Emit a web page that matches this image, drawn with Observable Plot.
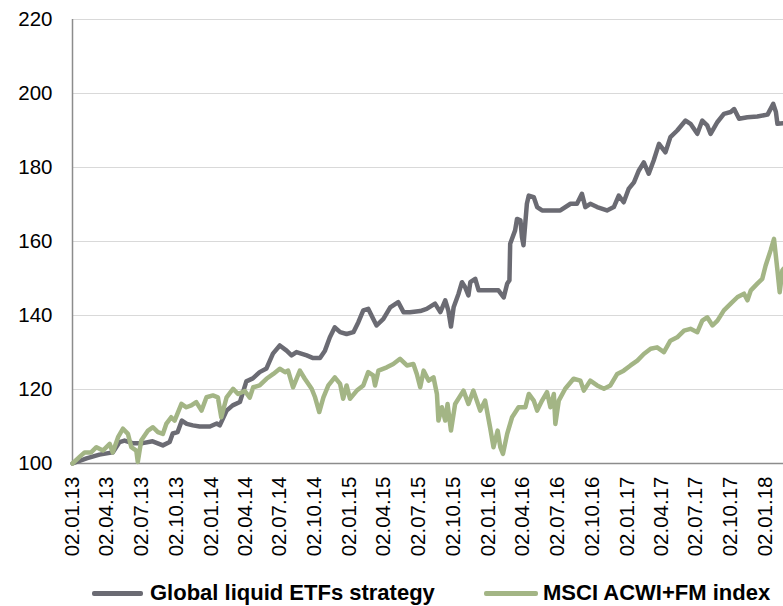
<!DOCTYPE html>
<html>
<head>
<meta charset="utf-8">
<script src="https://cdn.jsdelivr.net/npm/d3@7"></script>
<script src="https://cdn.jsdelivr.net/npm/@observablehq/plot@0.6"></script>
<style>
  html, body { margin: 0; padding: 0; background: #fff; }
  #wrap { position: relative; width: 783px; height: 606px; font-family: "Liberation Sans", Arial, sans-serif; }
  .leg { position: absolute; top: 580px; height: 26px; display: flex; align-items: center; font-weight: bold; font-size: 22px; color: #000; white-space: nowrap; }
  .sw { display: inline-block; height: 5px; border-radius: 2px; }
</style>
</head>
<body>
<div id="wrap">
  <div id="chart"></div>
  <div class="leg" style="left:92px"><span class="sw" style="width:51px;background:#6b6b73"></span><span style="margin-left:7px">Global liquid ETFs strategy</span></div>
  <div class="leg" style="left:484px"><span class="sw" style="width:54px;background:#a3b585"></span><span style="margin-left:5px">MSCI ACWI+FM index</span></div>
</div>
<script>
const seriesNames = ["Global liquid ETFs strategy", "MSCI ACWI+FM index"];

const stratDates = ["2013-01-02","2013-02-08","2013-03-14","2013-04-18","2013-05-06","2013-05-19","2013-06-09","2013-07-06","2013-08-01","2013-08-28","2013-09-15","2013-09-23","2013-10-06","2013-10-17","2013-10-30","2013-11-15","2013-12-03","2013-12-30","2014-01-17","2014-01-25","2014-02-12","2014-02-28","2014-03-19","2014-04-05","2014-04-22","2014-05-10","2014-05-28","2014-06-14","2014-07-02","2014-07-20","2014-08-02","2014-08-15","2014-09-11","2014-09-28","2014-10-16","2014-10-29","2014-11-11","2014-11-24","2014-12-08","2014-12-25","2015-01-12","2015-01-25","2015-02-07","2015-02-20","2015-03-05","2015-03-14","2015-04-01","2015-04-19","2015-05-10","2015-05-24","2015-06-10","2015-07-07","2015-07-24","2015-08-15","2015-08-29","2015-09-11","2015-09-19","2015-09-26","2015-10-03","2015-10-16","2015-10-25","2015-11-02","2015-11-11","2015-11-16","2015-11-29","2015-12-08","2015-12-30","2016-01-29","2016-02-12","2016-02-21","2016-02-27","2016-02-29","2016-03-13","2016-03-18","2016-03-27","2016-03-31","2016-04-04","2016-04-13","2016-04-18","2016-05-01","2016-05-10","2016-05-23","2016-07-10","2016-08-06","2016-08-23","2016-09-05","2016-09-14","2016-09-27","2016-10-15","2016-11-10","2016-11-28","2016-12-11","2016-12-24","2017-01-06","2017-01-20","2017-02-02","2017-02-15","2017-02-28","2017-03-13","2017-03-27","2017-04-13","2017-04-26","2017-05-14","2017-06-05","2017-06-18","2017-07-06","2017-07-19","2017-08-01","2017-08-10","2017-08-28","2017-09-14","2017-10-02","2017-10-11","2017-10-24","2017-11-15","2017-12-11","2018-01-07","2018-01-22","2018-01-29","2018-02-02","2018-02-18"];
const stratValues = [100,101.4,102.4,103,105.8,106.2,105.5,105.5,106,104.9,105.8,108.1,108.5,111.6,110.7,110.3,110,110,110.8,110.3,114.3,115.7,116.6,122.2,123,124.7,125.7,129.7,131.9,130.5,129.2,130.1,129.2,128.5,128.5,130.5,134.1,136.8,135.5,135,135.5,138.2,141.4,141.8,139.1,137.3,139.1,142.2,143.6,140.9,140.9,141.2,141.8,143.2,140.9,144.1,141.4,137,142.2,145.9,149,147.7,145.4,149,149.9,146.8,146.8,146.8,144.9,148.6,149.5,159.4,163,166.1,165.7,161.2,159,170.2,172.4,172,169.3,168.4,168.4,170.2,170.2,172.9,169.3,170.2,169.3,168.4,169.3,172.4,170.6,174.2,176,179.2,181.4,178.3,181.9,186.4,184.1,188.2,190,192.7,191.8,189.1,192.7,191.4,189.1,192.3,194.5,195,195.8,193.2,193.6,193.8,194.3,197.2,195,191.8,192];

const msciDates = ["2013-01-02","2013-01-20","2013-02-03","2013-02-20","2013-03-06","2013-03-23","2013-04-10","2013-04-18","2013-05-02","2013-05-15","2013-05-28","2013-06-06","2013-06-19","2013-06-23","2013-07-02","2013-07-20","2013-08-02","2013-08-15","2013-08-28","2013-09-06","2013-09-19","2013-09-28","2013-10-16","2013-10-29","2013-11-11","2013-11-24","2013-12-08","2013-12-21","2014-01-07","2014-01-20","2014-01-29","2014-02-12","2014-03-01","2014-03-14","2014-04-01","2014-04-14","2014-04-23","2014-05-10","2014-05-28","2014-06-15","2014-07-02","2014-07-16","2014-07-24","2014-08-06","2014-08-24","2014-09-06","2014-09-24","2014-10-03","2014-10-14","2014-10-25","2014-11-07","2014-11-24","2014-12-08","2014-12-16","2014-12-25","2015-01-03","2015-01-21","2015-02-07","2015-02-20","2015-03-05","2015-03-10","2015-03-19","2015-04-10","2015-04-27","2015-05-15","2015-06-02","2015-06-19","2015-06-28","2015-07-07","2015-07-16","2015-07-29","2015-08-11","2015-08-20","2015-08-24","2015-09-02","2015-09-11","2015-09-17","2015-09-26","2015-10-07","2015-10-29","2015-11-11","2015-11-24","2015-12-12","2015-12-25","2016-01-07","2016-01-16","2016-01-27","2016-02-03","2016-02-10","2016-02-21","2016-03-05","2016-03-22","2016-04-09","2016-04-18","2016-05-01","2016-05-10","2016-05-23","2016-06-05","2016-06-14","2016-06-23","2016-06-27","2016-07-06","2016-07-23","2016-08-14","2016-09-01","2016-09-10","2016-09-27","2016-10-15","2016-11-02","2016-11-19","2016-12-07","2016-12-24","2017-01-11","2017-01-29","2017-02-15","2017-03-05","2017-03-22","2017-04-09","2017-04-26","2017-05-14","2017-06-01","2017-06-18","2017-07-06","2017-07-19","2017-08-01","2017-08-15","2017-08-28","2017-09-14","2017-10-02","2017-10-20","2017-11-06","2017-11-15","2017-11-24","2017-12-11","2017-12-24","2018-01-02","2018-01-15","2018-01-24","2018-02-02","2018-02-08","2018-02-15","2018-02-18"];
const msciValues = [100,101.7,103,103,104.4,103.5,105.3,103,107.1,109.4,108,104.4,103.5,100.4,106.2,108.9,109.8,108.5,108,110.7,112.5,111.6,116.1,115.2,115.7,116.6,114.3,117.9,118.4,117.9,112.5,117.9,120.2,118.8,119.6,117.8,120.6,121.1,122.9,124.2,125.6,124.7,125.1,120.6,125.1,122.9,120.2,117.9,113.9,117.9,121.1,123.3,121.5,117.5,121.1,117.5,119.7,121.1,124.7,123.8,121.1,125.1,126,126.9,128.3,126.5,126.9,124.2,120.6,125.1,122.4,123.3,118.8,111.6,115.2,111.6,116.1,108.9,116.1,119.7,116.1,119.7,114.3,117,109.8,104.4,108.9,104.4,102.6,108,112.5,115.2,115.2,118.8,117,114.3,117,119.3,115.2,118.8,110.7,117,120.2,122.9,122.4,119.7,122.4,121.1,120.2,121.1,124.2,125.1,126.5,127.8,129.6,131,131.4,130.1,133.2,134.1,135.9,136.4,135.5,138.6,139.5,137.3,138.6,141.4,143.2,145,145.9,144.1,146.8,148.6,149.9,153.5,157.6,160.7,152.2,146.3,152.2,152.6];

const xTickDates = ["2013-01-02","2013-04-02","2013-07-02","2013-10-02","2014-01-02","2014-04-02","2014-07-02","2014-10-02","2015-01-02","2015-04-02","2015-07-02","2015-10-02","2016-01-02","2016-04-02","2016-07-02","2016-10-02","2017-01-02","2017-04-02","2017-07-02","2017-10-02","2018-01-02"];
const yTicks = [100, 120, 140, 160, 180, 200, 220];

const parse = d3.utcParse("%Y-%m-%d");
const strat = stratDates.map((d, i) => ({date: parse(d), value: stratValues[i], series: seriesNames[0]}));
const msci = msciDates.map((d, i) => ({date: parse(d), value: msciValues[i], series: seriesNames[1]}));
const xStart = parse(stratDates[0]);
const xEnd = parse(stratDates[stratDates.length - 1]);

const chart = Plot.plot({
  width: 783,
  height: 572,
  marginLeft: 72,
  marginRight: 0,
  marginTop: 19,
  marginBottom: 109,
  style: {fontFamily: "'Liberation Sans', Arial, sans-serif", fontSize: "20.5px", color: "#000", background: "#fff"},
  x: {type: "utc", domain: [xStart, xEnd]},
  y: {domain: [100, 220]},
  marks: [
    Plot.gridY({ticks: yTicks.slice(1), stroke: "#d9d9d9", strokeOpacity: 1, strokeWidth: 1}),
    Plot.axisY({ticks: yTicks, tickSize: 0, tickPadding: 20, label: null, fill: "#000"}),
    Plot.axisX({ticks: xTickDates.map(parse), tickFormat: d3.utcFormat("%d.%m.%y"), tickRotate: -90, tickSize: 0, tickPadding: 13, label: null, fill: "#000"}),
    Plot.ruleX([xStart], {stroke: "#8c8c8c", strokeWidth: 1.5}),
    Plot.ruleY([100], {stroke: "#8c8c8c", strokeWidth: 1.5}),
    Plot.lineY(strat, {x: "date", y: "value", stroke: "#6b6b73", strokeWidth: 4.5, strokeLinejoin: "round"}),
    Plot.lineY(msci, {x: "date", y: "value", stroke: "#a3b585", strokeWidth: 4.5, strokeLinejoin: "round"})
  ]
});
document.getElementById("chart").appendChild(chart);
</script>
</body>
</html>
